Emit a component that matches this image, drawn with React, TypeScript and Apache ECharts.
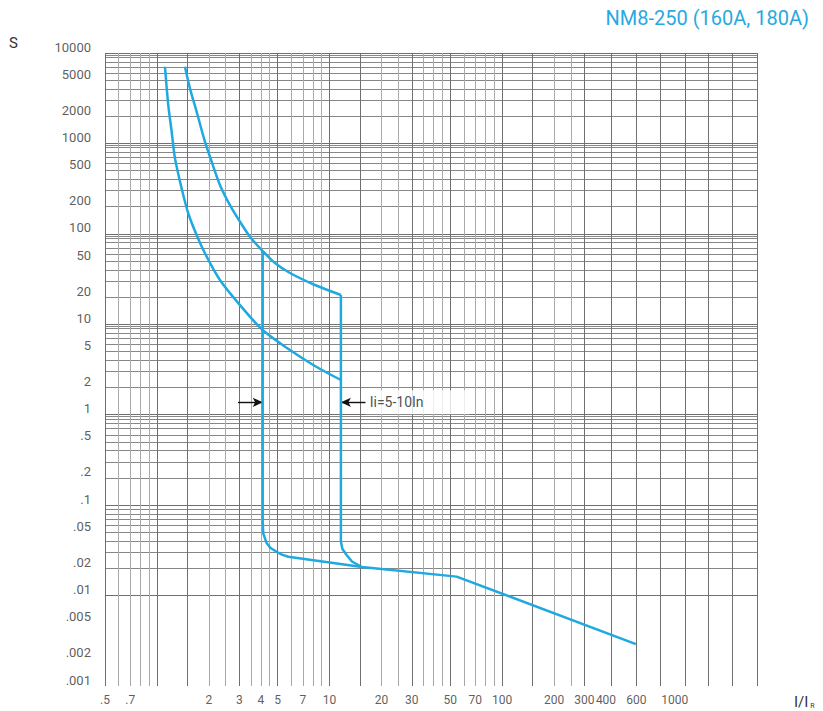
import React, { useEffect, useRef } from "react";
import * as echarts from "echarts";

// ---------- text ----------
const TITLE = "NM8-250 (160A, 180A)";
const Y_NAME = "S";
const X_NAME = "I/I";
const X_NAME_SUB = "R";
const SETTING_LABEL = "Ii=5-10In";

// ---------- axes ----------
const xMin = 0.5;
const xMax = 3000;
const yMin = 0.001;
const yMax = 10000;

const xTickLabels = [".5", ".7", "2", "3", "4", "5", "7", "10", "20", "30", "50", "70", "100", "200", "300", "400", "600", "1000"];
const xTickValues = [0.5, 0.7, 2, 3, 4, 5, 7, 10, 20, 30, 50, 70, 100, 200, 300, 400, 600, 1000];

const yTickLabels = ["10000", "5000", "2000", "1000", "500", "200", "100", "50", "20", "10", "5", "2", "1", ".5", ".2", ".1", ".05", ".02", ".01", ".005", ".002", ".001"];
const yTickValues = [10000, 5000, 2000, 1000, 500, 200, 100, 50, 20, 10, 5, 2, 1, 0.5, 0.2, 0.1, 0.05, 0.02, 0.01, 0.005, 0.002, 0.001];

// grid lines of the printed log paper
const xGridDark = [0.5, 1, 1.5, 3, 5, 10, 15, 30, 50, 100, 150, 300, 3000];
const xGridLight = [0.6, 0.7, 0.8, 0.9, 2, 2.5, 3.5, 4, 4.5, 6, 7, 8, 9, 20, 25, 35, 40, 45, 60, 70, 80, 90, 200, 250];
const xGridExtra = [430, 600, 830, 1150, 1560, 2150];
const yGridDecades = [0.001, 0.01, 0.1, 1, 10, 100, 1000, 10000];
const yGridMultiples = [2, 3, 4, 5, 6, 7, 8, 9, 9.5];

// ---------- curves (x = I/IR, y = seconds) ----------
const lowerCurve: [number, number][] = [
  [1.113, 7050], [1.163, 2660], [1.217, 1347], [1.272, 684], [1.39, 319], [1.518, 169],
  [1.698, 97], [1.897, 61], [2.317, 30.9], [3.03, 16.3], [4.1, 8.64], [5.9, 5.19],
  [8.23, 3.46], [11.64, 2.42],
];
const upperCurve: [number, number][] = [
  [1.453, 7050], [1.553, 4066], [1.698, 2242], [1.897, 1045], [2.075, 628], [2.317, 347],
  [2.648, 208], [3.03, 136], [3.458, 93], [4.1, 64.6], [4.83, 47.6], [5.9, 36.9],
  [8.23, 27.2], [11.64, 21.1],
];
const upperDrop: [number, number][] = [
  [11.64, 21.1], [11.64, 0.0394], [11.88, 0.0327], [12.56, 0.0281], [13.49, 0.0238], [15.41, 0.0207],
];
const lowerDrop: [number, number][] = [
  [4.1, 64.6], [4.1, 0.0651], [4.13, 0.0488], [4.32, 0.0381], [4.55, 0.0336], [4.94, 0.0305],
  [5.3, 0.0284], [5.77, 0.0269], [15.41, 0.0207], [54.5, 0.0162], [596, 0.00291],
];

// ---------- annotation ----------
const arrowY = 1.37;
const leftArrowFrom = 2.95;
const leftArrowTo = 4.1;
const rightArrowFrom = 16.2;
const rightArrowTo = 11.64;

const BLUE = "#1fa9e1";
const DARK = "#6f6f6f";
const LIGHT = "#a9a9a9";
const MID = "#878787";
const TEXT = "#333333";
const FONT = "Roboto";

export default function App() {
  const ref = useRef<HTMLDivElement | null>(null);

  useEffect(() => {
    if (!ref.current) return;
    const chart = echarts.init(ref.current, undefined, { renderer: "svg" });

    const vLines = [
      ...xGridDark.map((v) => ({ xAxis: v, lineStyle: { color: DARK, width: 1, type: "solid" } })),
      ...xGridLight.map((v) => ({ xAxis: v, lineStyle: { color: LIGHT, width: 1, type: "solid" } })),
      ...xGridExtra.map((v) => ({ xAxis: v, lineStyle: { color: DARK, width: 1, type: "solid" } })),
    ];
    const hLines: any[] = [];
    yGridDecades.forEach((d) => {
      hLines.push({ yAxis: d, lineStyle: { color: DARK, width: 1.2, type: "solid" } });
      if (d < yMax) {
        yGridMultiples.forEach((m) => {
          hLines.push({ yAxis: d * m, lineStyle: { color: MID, width: 1, type: "solid" } });
        });
      }
    });

    const option: any = {
      animation: false,
      backgroundColor: "#ffffff",
      grid: { left: 105, top: 53, width: 652, height: 633, containLabel: false },
      xAxis: {
        type: "log", logBase: 10, min: xMin, max: xMax,
        axisLabel: { show: false }, axisTick: { show: false }, axisLine: { show: false },
        splitLine: { show: false }, minorSplitLine: { show: false },
      },
      yAxis: {
        type: "log", logBase: 10, min: yMin, max: yMax,
        axisLabel: { show: false }, axisTick: { show: false }, axisLine: { show: false },
        splitLine: { show: false }, minorSplitLine: { show: false },
      },
      graphic: [
        {
          type: "text", right: 14, top: 8,
          style: { text: TITLE, fill: "#29a9e0", font: `20px ${FONT}` },
        },
        {
          type: "text", left: 9, top: 35,
          style: { text: Y_NAME, fill: TEXT, font: `15px ${FONT}` },
        },
        {
          type: "text", left: 794, top: 694,
          style: {
            text: `{a|${X_NAME}}{b|${X_NAME_SUB}}`,
            rich: {
              a: { fontSize: 15, fontFamily: FONT, fill: TEXT, color: TEXT },
              b: { fontSize: 7, fontFamily: FONT, fill: TEXT, color: TEXT, padding: [8, 0, 0, 2] },
            },
          },
        },
      ],
      series: [
        {
          type: "line", name: "grid", data: [[1, 1]], showSymbol: false, silent: true,
          lineStyle: { width: 0, opacity: 0 }, z: 1,
          markLine: {
            silent: true, symbol: ["none", "none"], label: { show: false },
            emphasis: { disabled: true }, animation: false,
            data: [...hLines, ...vLines],
          },
        },
        {
          type: "line", name: "lower", data: lowerCurve, showSymbol: false, silent: true, smooth: 0.3,
          lineStyle: { color: BLUE, width: 2.5 }, z: 5,
        },
        {
          type: "line", name: "upper", data: upperCurve, showSymbol: false, silent: true, smooth: 0.3,
          lineStyle: { color: BLUE, width: 2.5 }, z: 5,
        },
        {
          type: "line", name: "upperDrop", data: upperDrop, showSymbol: false, silent: true,
          lineStyle: { color: BLUE, width: 2.5, join: "round" }, z: 5,
        },
        {
          type: "line", name: "lowerDrop", data: lowerDrop, showSymbol: false, silent: true,
          lineStyle: { color: BLUE, width: 2.5, join: "round" }, z: 5,
        },
        {
          type: "scatter", name: "setting", silent: true, clip: false, z: 8,
          data: [[rightArrowFrom, arrowY]],
          symbolSize: 0, itemStyle: { color: "transparent" },
          label: {
            show: true, position: "right", distance: 0,
            formatter: SETTING_LABEL, color: "#222", fontFamily: FONT, fontSize: 14,
            backgroundColor: "#ffffff", padding: [5, 46, 5, 4],
          },
          markLine: {
            silent: true, symbol: ["none", "arrow"], symbolSize: [7, 10],
            label: { show: false }, emphasis: { disabled: true },
            lineStyle: { color: "#111", width: 1.4, type: "solid" },
            data: [
              [{ coord: [leftArrowFrom, arrowY] }, { coord: [leftArrowTo, arrowY] }],
              [{ coord: [rightArrowFrom, arrowY] }, { coord: [rightArrowTo, arrowY] }],
            ],
          },
        },
        {
          type: "scatter", name: "yTicks", silent: true, clip: false, z: 9,
          data: yTickValues.map((v, i) => ({ value: [xMin, v], name: yTickLabels[i] })),
          symbolSize: 0, itemStyle: { color: "transparent" },
          label: {
            show: true, position: "left", distance: 14, offset: [0, -6],
            formatter: (p: any) => p.name, color: TEXT, fontFamily: FONT, fontSize: 13,
          },
        },
        {
          type: "scatter", name: "xTicks", silent: true, clip: false, z: 9,
          data: xTickValues.map((v, i) => ({ value: [v, yMin], name: xTickLabels[i] })),
          symbolSize: 0, itemStyle: { color: "transparent" },
          label: {
            show: true, position: "bottom", distance: 8,
            formatter: (p: any) => p.name, color: TEXT, fontFamily: FONT, fontSize: 12,
          },
        },
      ],
    };

    chart.setOption(option);
    return () => chart.dispose();
  }, []);

  return (
    <div
      ref={ref}
      style={{ position: "absolute", left: 0, top: 0, width: 823, height: 711, background: "#fff" }}
    />
  );
}
